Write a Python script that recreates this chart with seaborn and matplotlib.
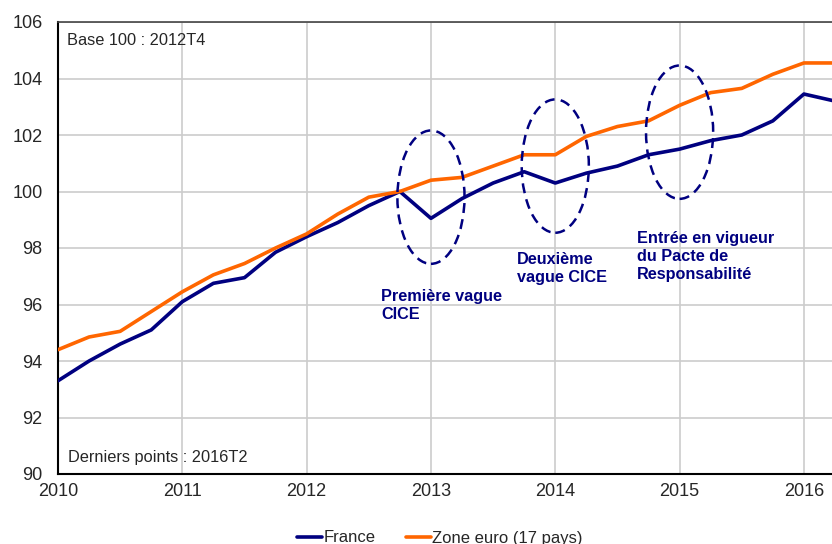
import numpy as np
import pandas as pd
import matplotlib
matplotlib.use('Agg')
import matplotlib.pyplot as plt
from matplotlib.patches import Ellipse
import seaborn as sns

# Quarterly data, 2010T1 -> 2016T2 (base 100 : 2012T4)
quarters = ['2010T1', '2010T2', '2010T3', '2010T4', '2011T1', '2011T2', '2011T3', '2011T4',
            '2012T1', '2012T2', '2012T3', '2012T4', '2013T1', '2013T2', '2013T3', '2013T4',
            '2014T1', '2014T2', '2014T3', '2014T4', '2015T1', '2015T2', '2015T3', '2015T4',
            '2016T1', '2016T2']
france = [93.3, 94.0, 94.6, 95.1, 96.1, 96.75, 96.95, 97.85,
          98.4, 98.9, 99.5, 100.0, 99.05, 99.75, 100.3, 100.7,
          100.3, 100.65, 100.9, 101.3, 101.5, 101.8, 102.0, 102.5,
          103.45, 103.2]
zone_euro = [94.4, 94.85, 95.05, 95.75, 96.45, 97.05, 97.45, 98.0,
             98.5, 99.2, 99.8, 100.0, 100.4, 100.5, 100.9, 101.3,
             101.3, 101.95, 102.3, 102.5, 103.05, 103.5, 103.65, 104.15,
             104.55, 104.55]

# CICE / Pacte annotations
ellipse_x = [2013.0, 2014.0, 2015.0]
ellipse_y = [99.8, 100.9, 102.1]
notes = ['Première vague\nCICE', 'Deuxième\nvague CICE',
         'Entrée en vigueur\ndu Pacte de\nResponsabilité']
notes_x = [2012.6, 2013.69, 2014.66]
notes_y = [96.55, 97.85, 98.6]

def to_year(q):
    return int(q[:4]) + (int(q[-1]) - 1) / 4

df = pd.DataFrame({'temps': [to_year(q) for q in quarters] * 2,
                   'valeur': france + zone_euro,
                   'serie': ['France'] * len(france) + ['Zone euro (17 pays)'] * len(zone_euro)})

sns.set_style('white')
plt.rcParams['font.family'] = ['Liberation Sans', 'DejaVu Sans']

fig = plt.figure(figsize=(8.32, 5.44), dpi=100)
ax = fig.add_axes([58 / 832, 70 / 544, 777 / 832, 452 / 544])

navy = '#000080'
orange = '#ff6600'
sns.lineplot(data=df, x='temps', y='valeur', hue='serie',
             palette={'France': navy, 'Zone euro (17 pays)': orange},
             linewidth=2.6, ax=ax, legend=True, zorder=3)

ax.set_xlim(2010, 2016.25)
ax.set_ylim(90, 106)
ax.set_xticks(range(2010, 2017))
ax.set_yticks(range(90, 107, 2))
ax.tick_params(axis='both', labelsize=13, length=0)
ax.tick_params(axis='x', pad=6.5)
ax.tick_params(axis='y', pad=11)
ax.grid(True, color='#cccccc', linewidth=1.2, zorder=0)
ax.set_xlabel('')
ax.set_ylabel('')

for side in ['left', 'bottom']:
    ax.spines[side].set_color('black')
    ax.spines[side].set_linewidth(1.5)
ax.spines['top'].set_color('#444444')
ax.spines['top'].set_linewidth(1.2)
ax.spines['right'].set_visible(False)

for x, y in zip(ellipse_x, ellipse_y):
    ax.add_patch(Ellipse((x, y), width=0.54, height=4.72, fill=False,
                         edgecolor=navy, linestyle=(0, (4, 2.5)), linewidth=1.8, zorder=4))

for t, x, y in zip(notes, notes_x, notes_y):
    ax.text(x, y, t, color=navy, fontsize=11.7, fontweight='bold',
            ha='left', va='top', linespacing=1.24)

ax.text(0.012, 0.975, 'Base 100 : 2012T4', transform=ax.transAxes,
        fontsize=11.8, ha='left', va='top')
ax.text(0.013, 0.036, 'Derniers points : 2016T2', transform=ax.transAxes,
        fontsize=11.8, ha='left', va='center')

ax.legend(loc='center', bbox_to_anchor=(440 / 832, 6 / 544),
          bbox_transform=fig.transFigure, ncol=2, frameon=False,
          fontsize=12, handlelength=1.5, handletextpad=0.1, columnspacing=1.8)

fig.savefig('out.png', dpi=100)
